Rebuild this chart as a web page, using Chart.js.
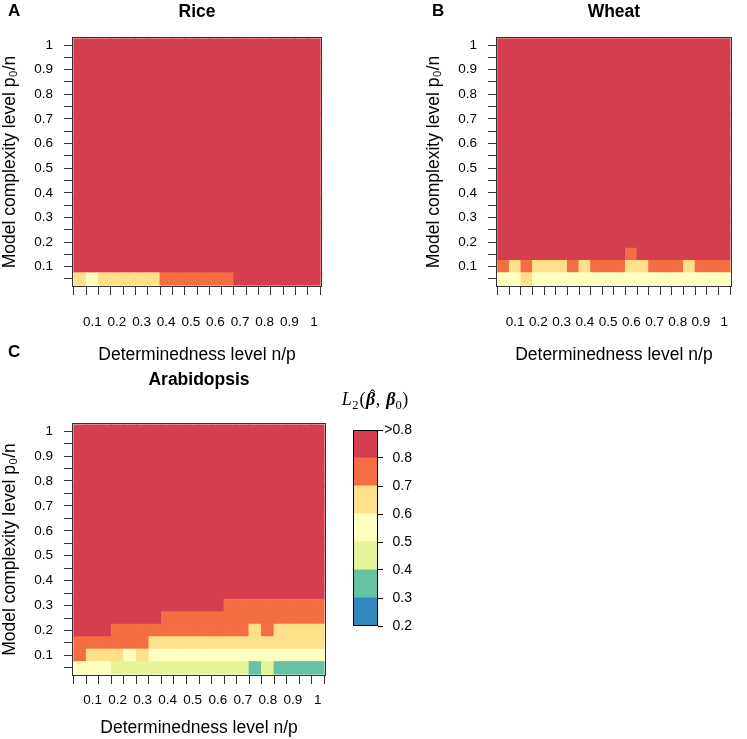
<!DOCTYPE html>
<html>
<head>
<meta charset="utf-8">
<script src="https://cdn.jsdelivr.net/npm/chart.js@4.4.1/dist/chart.umd.min.js"></script>
<style>
  html, body { margin: 0; padding: 0; background: #fff; }
  body { width: 747px; height: 739px; position: relative; overflow: hidden; }
  canvas { position: absolute; }
</style>
</head>
<body>
<canvas id="rice" width="340" height="370" style="left:0;top:0"></canvas>
<canvas id="wheat" width="323" height="370" style="left:424px;top:0"></canvas>
<canvas id="arabidopsis" width="340" height="399" style="left:0;top:340px"></canvas>
<canvas id="key" width="123" height="260" style="left:330px;top:385px"></canvas>
<script>
// cell centres on both axes
const nOverP = [0.05, 0.1, 0.15, 0.2, 0.25, 0.3, 0.35, 0.4, 0.45, 0.5, 0.55, 0.6, 0.65, 0.7, 0.75, 0.8, 0.85, 0.9, 0.95, 1];
const p0OverN = [0.05, 0.1, 0.15, 0.2, 0.25, 0.3, 0.35, 0.4, 0.45, 0.5, 0.55, 0.6, 0.65, 0.7, 0.75, 0.8, 0.85, 0.9, 0.95, 1];
const tickLabels = ['', '0.1', '', '0.2', '', '0.3', '', '0.4', '', '0.5', '', '0.6', '', '0.7', '', '0.8', '', '0.9', '', '1'];

// one string per row, bottom row (p0/n = 0.05) first, one digit per n/p column
// digit = L2 bin: 2 -> 0.2-0.3, 3 -> 0.3-0.4 ... 7 -> 0.7-0.8, 8 -> >0.8
const rice = [
  '65666667777778888888',
  '88888888888888888888',
  '88888888888888888888',
  '88888888888888888888',
  '88888888888888888888',
  '88888888888888888888',
  '88888888888888888888',
  '88888888888888888888',
  '88888888888888888888',
  '88888888888888888888',
  '88888888888888888888',
  '88888888888888888888',
  '88888888888888888888',
  '88888888888888888888',
  '88888888888888888888',
  '88888888888888888888',
  '88888888888888888888',
  '88888888888888888888',
  '88888888888888888888',
  '88888888888888888888'
];
const wheat = [
  '55655555555555555555',
  '76766676777667776777',
  '88888888888788888888',
  '88888888888888888888',
  '88888888888888888888',
  '88888888888888888888',
  '88888888888888888888',
  '88888888888888888888',
  '88888888888888888888',
  '88888888888888888888',
  '88888888888888888888',
  '88888888888888888888',
  '88888888888888888888',
  '88888888888888888888',
  '88888888888888888888',
  '88888888888888888888',
  '88888888888888888888',
  '88888888888888888888',
  '88888888888888888888',
  '88888888888888888888'
];
const arabidopsis = [
  '55544444444444343333',
  '76665655555555555555',
  '77777766666666666666',
  '88877777777777676666',
  '88888887777777777777',
  '88888888888877777777',
  '88888888888888888888',
  '88888888888888888888',
  '88888888888888888888',
  '88888888888888888888',
  '88888888888888888888',
  '88888888888888888888',
  '88888888888888888888',
  '88888888888888888888',
  '88888888888888888888',
  '88888888888888888888',
  '88888888888888888888',
  '88888888888888888888',
  '88888888888888888888',
  '88888888888888888888'
];

const keyEdges = [0.2, 0.3, 0.4, 0.5, 0.6, 0.7, 0.8, 0.9];
const keyLabels = ['0.2', '0.3', '0.4', '0.5', '0.6', '0.7', '0.8', '>0.8'];
const keyColors = ['#3288BD', '#66C2A5', '#E6F598', '#FFFFBF', '#FEE08B', '#F46D43', '#D53E4F'];

// L2(beta-hat, beta0), set piece by piece like the math title
const serif = '"Liberation Serif", "DejaVu Serif", serif';
const keyTitle = [
  { t: 'L', font: 'italic 18px ' + serif, gap: 0.5 },
  { t: '2', font: '12.5px ' + serif, dy: 3.5, gap: 1 },
  { t: '(', font: '18px ' + serif, gap: 0.5 },
  { t: 'β', font: 'italic bold 18px ' + serif, hat: true, gap: 0.5 },
  { t: ',', font: '18px ' + serif, gap: 6 },
  { t: 'β', font: 'italic bold 18px ' + serif, gap: 0 },
  { t: '0', font: '12.5px ' + serif, dy: 3.5, gap: 0.5 },
  { t: ')', font: '18px ' + serif, gap: 0 }
];

Chart.defaults.font.family = '"Liberation Sans", Arial, sans-serif';
Chart.defaults.color = '#000';

// frame round the plot area, panel letter and title
const panelDecor = {
  id: 'panelDecor',
  afterDraw(chart, args, o) {
    const {ctx, chartArea: a} = chart;
    ctx.save();
    ctx.strokeStyle = o.frameColor || '#333';
    ctx.lineWidth = 1;
    ctx.strokeRect(Math.round(a.left) + 0.5, Math.round(a.top) + 0.5,
      Math.round(a.right - a.left) - 1, Math.round(a.bottom - a.top) - 1);
    ctx.fillStyle = '#000';
    ctx.textBaseline = 'middle';
    if (o.letter) {
      ctx.font = 'bold 17px "Liberation Sans", Arial';
      ctx.textAlign = 'left';
      ctx.fillText(o.letter, 8, o.letterY);
    }
    if (o.title) {
      ctx.font = 'bold 17.5px "Liberation Sans", Arial';
      ctx.textAlign = 'center';
      ctx.fillText(o.title, (a.left + a.right) / 2, o.titleY);
    }
    ctx.restore();
  }
};

const keyTitlePlugin = {
  id: 'keyTitle',
  afterDraw(chart, args, o) {
    const ctx = chart.ctx;
    ctx.save();
    ctx.fillStyle = '#000';
    ctx.textBaseline = 'alphabetic';
    ctx.textAlign = 'left';
    const widths = keyTitle.map(p => { ctx.font = p.font; return ctx.measureText(p.t).width + p.gap; });
    let x = o.x - widths.reduce((s, w) => s + w, 0) / 2;
    keyTitle.forEach((p, i) => {
      ctx.font = p.font;
      ctx.fillText(p.t, x, o.y + (p.dy || 0));
      if (p.hat) {
        ctx.font = '16px ' + serif;
        ctx.textAlign = 'center';
        ctx.fillText('ˆ', x + widths[i] / 2 + 1.5, o.y - 4);
        ctx.textAlign = 'left';
      }
      x += widths[i];
    });
    ctx.restore();
  }
};

function rowsOf(grid) {
  // one floating bar per cell, a dataset per row
  return grid.map((row, r) => ({
    data: nOverP.map(x => ({x: x, y: [p0OverN[r] - 0.025, p0OverN[r] + 0.025]})),
    backgroundColor: row.split('').map(d => keyColors[Number(d) - 2]),
    grouped: false,
    barPercentage: 1,
    categoryPercentage: 1,
    borderWidth: 0,
    inflateAmount: 0.5
  }));
}

function heatmap(id, grid, o) {
  return new Chart(document.getElementById(id), {
    type: 'bar',
    data: { datasets: rowsOf(grid) },
    options: {
      responsive: false,
      animation: false,
      layout: { padding: { top: o.top, right: o.right, bottom: o.bottom, left: 0 } },
      plugins: {
        legend: { display: false },
        tooltip: { enabled: false },
        panelDecor: { letter: o.letter, title: o.title, letterY: o.letterY, titleY: o.titleY }
      },
      scales: {
        x: {
          type: 'linear', min: 0.0175, max: 1.0325, offset: false,
          afterBuildTicks: s => { s.ticks = nOverP.map(v => ({value: v})); },
          afterFit: s => { s.height = o.xHeight; },
          ticks: { autoSkip: false, maxRotation: 0, minRotation: 0, padding: o.xPad,
            font: { size: 13.5 }, callback: (v, i) => tickLabels[i] },
          grid: { drawOnChartArea: false, tickLength: 8, color: '#333' },
          border: { display: false },
          title: { display: true, text: 'Determinedness level n/p', font: { size: 17.5 }, padding: 0 }
        },
        y: {
          type: 'linear', min: 0.0175, max: 1.0325,
          afterBuildTicks: s => { s.ticks = p0OverN.map(v => ({value: v})); },
          afterFit: s => { s.width = 72; },
          ticks: { autoSkip: false, padding: 11, font: { size: 13.5 }, callback: (v, i) => tickLabels[i] },
          grid: { drawOnChartArea: false, tickLength: 8, color: '#333' },
          border: { display: false },
          title: { display: true, text: 'Model complexity level p₀/n', font: { size: 17.5 }, padding: 0 }
        }
      }
    },
    plugins: [panelDecor]
  });
}

heatmap('rice', rice, { top: 37, right: 18, bottom: 4, xHeight: 79, xPad: 19, letter: 'A', title: 'Rice', letterY: 11, titleY: 12 });
heatmap('wheat', wheat, { top: 37, right: 1, bottom: 4, xHeight: 79, xPad: 19, letter: 'B', title: 'Wheat', letterY: 11, titleY: 12 });
heatmap('arabidopsis', arabidopsis, { top: 83, right: 14, bottom: 0, xHeight: 63, xPad: 8, letter: 'C', title: 'Arabidopsis', letterY: 12, titleY: 40 });

// colour key
new Chart(document.getElementById('key'), {
  type: 'bar',
  data: {
    labels: ['L2'],
    datasets: keyColors.map((c, i) => ({
      data: [[keyEdges[i], keyEdges[i + 1]]],
      backgroundColor: c,
      grouped: false,
      barPercentage: 1,
      categoryPercentage: 1,
      borderWidth: 0,
      inflateAmount: 0.5
    }))
  },
  options: {
    responsive: false,
    animation: false,
    layout: { padding: { left: 23, top: 45, bottom: 19, right: 41 } },
    plugins: {
      legend: { display: false },
      tooltip: { enabled: false },
      panelDecor: { frameColor: '#000' },
      keyTitle: { x: 45, y: 20 }
    },
    scales: {
      x: { display: false },
      y: {
        position: 'right', min: 0.2, max: 0.9,
        afterBuildTicks: s => { s.ticks = keyEdges.map(v => ({value: v})); },
        afterFit: s => { s.width = 34; },
        ticks: { autoSkip: false, padding: 2, crossAlign: 'far', font: { size: 14 },
          callback: (v, i) => keyLabels[i] },
        grid: { drawOnChartArea: false, tickLength: 5, color: '#000' },
        border: { display: false }
      }
    }
  },
  plugins: [panelDecor, keyTitlePlugin]
});
</script>
</body>
</html>
